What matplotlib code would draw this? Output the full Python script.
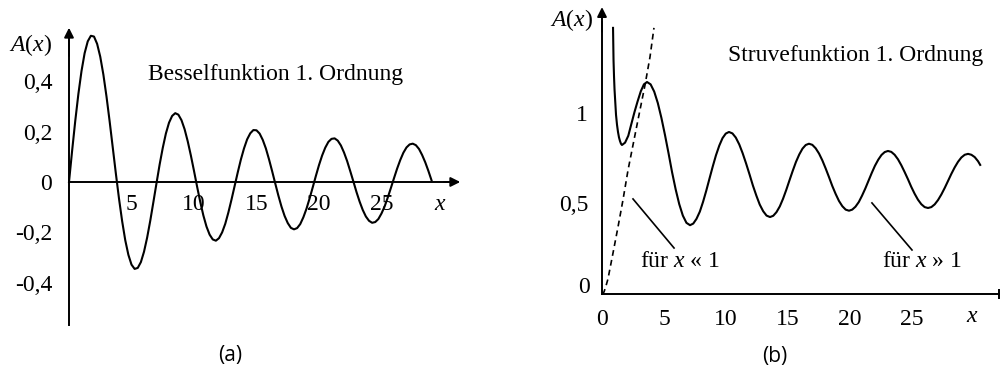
import matplotlib
matplotlib.use('Agg')
import matplotlib.pyplot as plt

# Bessel function of 1st order, step 0.25 from x = 0 to 29
bessel_y = [0, 0.124, 0.242, 0.349, 0.440, 0.511, 0.558, 0.580, 0.577, 0.548,
            0.497, 0.426, 0.339, 0.241, 0.137, 0.033, -0.066, -0.155, -0.231, -0.289,
            -0.328, -0.345, -0.341, -0.318, -0.277, -0.221, -0.154, -0.080, -0.005, 0.069,
            0.135, 0.192, 0.235, 0.262, 0.273, 0.267, 0.245, 0.209, 0.161, 0.105,
            0.044, -0.019, -0.079, -0.133, -0.177, -0.209, -0.228, -0.233, -0.223, -0.200,
            -0.166, -0.121, -0.070, -0.016, 0.038, 0.089, 0.133, 0.169, 0.193, 0.206,
            0.205, 0.192, 0.167, 0.133, 0.090, 0.043, -0.006, -0.054, -0.098, -0.135,
            -0.163, -0.182, -0.188, -0.183, -0.167, -0.140, -0.106, -0.065, -0.021, 0.024,
            0.067, 0.105, 0.136, 0.159, 0.171, 0.173, 0.164, 0.145, 0.117, 0.083,
            0.043, 0.002, -0.040, -0.078, -0.111, -0.137, -0.154, -0.162, -0.159, -0.147,
            -0.125, -0.097, -0.062, -0.024, 0.015, 0.053, 0.087, 0.116, 0.137, 0.149,
            0.152, 0.146, 0.131, 0.107, 0.078, 0.044, 0.007]
bessel_x = [i * 0.25 for i in range(len(bessel_y))]

# Struve function curve
struve_x = [0.89, 0.91, 0.93, 0.97, 1.01, 1.07, 1.13, 1.21, 1.29, 1.37, 1.45, 1.53, 1.61,
            1.86, 2.12, 2.37, 2.62, 2.87, 3.13, 3.38, 3.63,
            3.92, 4.21, 4.50, 4.79, 5.08, 5.37, 5.65, 5.94, 6.23, 6.52, 6.81, 7.10,
            7.36, 7.62, 7.89, 8.15, 8.41, 8.67, 8.93, 9.19, 9.46, 9.72, 9.98, 10.24,
            10.52, 10.79, 11.07, 11.34, 11.62, 11.90, 12.17, 12.45, 12.72, 13.00, 13.27, 13.55,
            13.81, 14.07, 14.34, 14.60, 14.86, 15.12, 15.38, 15.64, 15.91, 16.17, 16.43, 16.69,
            16.96, 17.23, 17.50, 17.77, 18.04, 18.31, 18.57, 18.84, 19.11, 19.38, 19.65, 19.92,
            20.18, 20.44, 20.71, 20.97, 21.23, 21.49, 21.75, 22.01, 22.28, 22.54, 22.80, 23.06,
            23.33, 23.60, 23.87, 24.14, 24.41, 24.68, 24.94, 25.21, 25.48, 25.75, 26.02, 26.29,
            26.56, 26.83, 27.10, 27.37, 27.64, 27.91, 28.17, 28.44, 28.71, 28.98, 29.25, 29.52,
            29.79, 30.06, 30.33, 30.50]
struve_y = [1.47, 1.38, 1.29, 1.20, 1.13, 1.06, 0.99, 0.935, 0.895, 0.865, 0.845, 0.830, 0.823,
            0.836, 0.874, 0.940, 1.005, 1.064, 1.120, 1.158, 1.171,
            1.158, 1.118, 1.055, 0.973, 0.878, 0.776, 0.673, 0.578, 0.496, 0.433, 0.393, 0.380,
            0.389, 0.415, 0.455, 0.509, 0.571, 0.638, 0.704, 0.766, 0.820, 0.861, 0.886, 0.895,
            0.887, 0.864, 0.826, 0.778, 0.721, 0.660, 0.599, 0.543, 0.494, 0.457, 0.433, 0.425,
            0.432, 0.452, 0.484, 0.526, 0.575, 0.628, 0.680, 0.729, 0.771, 0.803, 0.823, 0.830,
            0.824, 0.805, 0.776, 0.738, 0.693, 0.645, 0.597, 0.553, 0.514, 0.485, 0.466, 0.460,
            0.466, 0.482, 0.508, 0.543, 0.582, 0.625, 0.668, 0.708, 0.742, 0.768, 0.784, 0.790,
            0.785, 0.769, 0.744, 0.711, 0.673, 0.633, 0.592, 0.554, 0.521, 0.496, 0.480, 0.475,
            0.480, 0.495, 0.519, 0.550, 0.586, 0.625, 0.663, 0.699, 0.730, 0.754, 0.769, 0.774,
            0.769, 0.756, 0.733, 0.713]

# small-x approximation (dashed)
approx_x = [0, 0.16, 0.32, 0.48, 0.89, 1.29, 1.69, 2.10, 2.50, 2.90, 3.47, 3.87, 4.19]
approx_y = [0, 0.011, 0.044, 0.083, 0.227, 0.370, 0.519, 0.685, 0.823, 0.961, 1.155, 1.309, 1.47]

# tick labels
a_xticks = [5, 10, 15, 20, 25]
a_yticks = [-0.4, -0.2, 0, 0.2, 0.4]
a_ylabels = ['-0,4', '-0,2', '0', '0,2', '0,4']
b_xticks = [0, 5, 10, 15, 20, 25]
b_yticks = [0.5, 1]
b_ylabels = ['0,5', '1']

plt.rcParams['font.family'] = 'Liberation Serif'
plt.rcParams['mathtext.fontset'] = 'custom'
plt.rcParams['mathtext.rm'] = 'Liberation Serif'
plt.rcParams['mathtext.it'] = 'Liberation Serif:italic'

FS = 17


def setup_axes(ax, xlim, ylim, xb, yb):
    ax.set_xlim(*xlim)
    ax.set_ylim(*ylim)
    for s in ['top', 'right']:
        ax.spines[s].set_visible(False)
    ax.spines['left'].set_position(('data', 0))
    ax.spines['bottom'].set_position(('data', 0))
    ax.spines['left'].set_bounds(*yb)
    ax.spines['bottom'].set_bounds(*xb)
    ax.spines['left'].set_linewidth(1.4)
    ax.spines['bottom'].set_linewidth(1.4)
    ax.patch.set_alpha(0)


def arrow(ax, tip, tail):
    ax.annotate('', xy=tip, xytext=tail,
                arrowprops=dict(arrowstyle='-|>', color='black', lw=1.4,
                                mutation_scale=14, shrinkA=0, shrinkB=0))


fig = plt.figure(figsize=(10, 3.72), dpi=100)

# ---- panel (a) ----
ax_a = fig.add_axes([0, 0, 0.5, 1])
setup_axes(ax_a, (-5.52, 34.48), (-0.754, 0.722), (0, 30.8), (-0.567, 0.58))
arrow(ax_a, (0, 0.612), (0, 0.5))
arrow(ax_a, (31.3, 0), (30.0, 0))
ax_a.plot(bessel_x, bessel_y, color='black', lw=1.5)
ax_a.set_xticks(a_xticks, labels=[str(v) for v in a_xticks])
ax_a.set_yticks(a_yticks, labels=a_ylabels)
ax_a.tick_params(axis='both', length=0, labelsize=FS)
ax_a.tick_params(axis='x', pad=9)
ax_a.tick_params(axis='y', pad=12)
ax_a.text(-1.36, 0.544, '$A(x)$', fontsize=FS, ha='right', va='center')
ax_a.text(6.32, 0.425, 'Besselfunktion 1. Ordnung', fontsize=FS, ha='left', va='center')
ax_a.text(29.68, -0.091, '$x$', fontsize=FS, ha='center', va='center')
ax_a.text(12.88, -0.687, '(a)', fontsize=15, ha='center', va='center',
          family='Open Sans')

# ---- panel (b) ----
ax_b = fig.add_axes([0.5, 0, 0.5, 1])
setup_axes(ax_b, (-8.226, 32.097), (-0.431, 1.624), (0, 32.05), (0, 1.5))
arrow(ax_b, (0, 1.585), (0, 1.45))
ax_b.plot([32.0], [0], marker='|', color='black', ms=7, mew=1.4)
ax_b.plot(struve_x, struve_y, color='black', lw=1.5)
ax_b.plot(approx_x, approx_y, color='black', lw=1.2, linestyle=(0, (3.5, 2.5)))
ax_b.plot([2.5, 5.81], [0.525, 0.254], color='black', lw=1.2)
ax_b.plot([21.77, 25.0], [0.503, 0.243], color='black', lw=1.2)
ax_b.set_xticks(b_xticks, labels=[str(v) for v in b_xticks])
ax_b.set_yticks(b_yticks, labels=b_ylabels)
ax_b.tick_params(axis='both', length=0, labelsize=FS)
ax_b.tick_params(axis='x', pad=11)
ax_b.tick_params(axis='y', pad=10)
ax_b.text(-1.0, 0.035, '0', fontsize=FS, ha='right', va='center')
ax_b.text(-0.73, 1.514, '$A(x)$', fontsize=FS, ha='right', va='center')
ax_b.text(10.16, 1.32, 'Struvefunktion 1. Ordnung', fontsize=FS, ha='left', va='center')
ax_b.text(3.06, 0.177, 'für $x$ « 1', fontsize=FS, ha='left', va='center')
ax_b.text(22.58, 0.177, 'für $x$ » 1', fontsize=FS, ha='left', va='center')
ax_b.text(29.84, -0.127, '$x$', fontsize=FS, ha='center', va='center')
ax_b.text(13.95, -0.348, '(b)', fontsize=15, ha='center', va='center',
          family='Open Sans')

fig.savefig('out.png', dpi=100)
